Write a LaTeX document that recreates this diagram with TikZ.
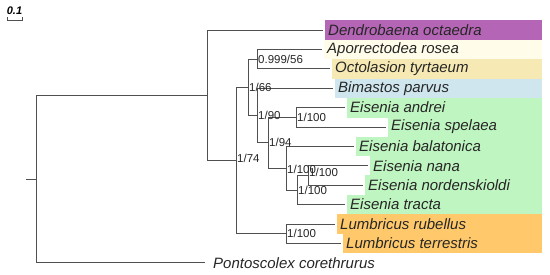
\documentclass[tikz,border=0pt]{standalone}
\usepackage{fontspec}
\setmainfont{Liberation Sans}
\definecolor{cpurp}{HTML}{B565B5}
\definecolor{cyell}{HTML}{FFFDE9}
\definecolor{ckhaki}{HTML}{F6E9B3}
\definecolor{cblue}{HTML}{CFE6EE}
\definecolor{cgreen}{HTML}{BFF5C0}
\definecolor{corange}{HTML}{FFC86A}
\definecolor{cline}{HTML}{505050}
\tikzset{
  branch/.style={draw=cline, line width=0.85pt},
  leaf/.style={anchor=west, inner xsep=5pt, inner ysep=0pt, font=\fontsize{15}{16}\selectfont\itshape, text=black!85},
  supp/.style={anchor=west, inner xsep=1pt, inner ysep=0pt, font=\fontsize{11.5}{12}\selectfont, text=black!85},
  band/.style={draw=none},
}
\begin{document}
\begin{tikzpicture}[x=1pt,y=-1pt]
\useasboundingbox (0,0) rectangle (550,274);
% colored bands
\fill[cpurp]  (325,20.3) rectangle (542,39.7);
\fill[cyell]  (324,39.7) rectangle (542,59.1);
\fill[ckhaki] (332,59.1) rectangle (542,78.5);
\fill[cblue]  (335,78.5) rectangle (542,97.9);
\fill[cgreen] (347,97.9) rectangle (542,117.5);
\fill[cgreen] (388,117.1) rectangle (542,136.9);
\fill[cgreen] (356,136.5) rectangle (542,156.3);
\fill[cgreen] (370,155.9) rectangle (542,175.7);
\fill[cgreen] (365,175.3) rectangle (542,195.1);
\fill[cgreen] (347,194.7) rectangle (542,214.3);
\fill[corange] (337,214.3) rectangle (542,233.9);
\fill[corange] (343,233.5) rectangle (542,253.1);
% leaves
\node[leaf] (dend) at (323,30.0) {Dendrobaena octaedra};
\node[leaf] (apor) at (322,49.4) {Aporrectodea rosea};
\node[leaf] (octo) at (330,68.8) {Octolasion tyrtaeum};
\node[leaf] (bima) at (333,88.2) {Bimastos parvus};
\node[leaf] (andr) at (345,107.6) {Eisenia andrei};
\node[leaf] (spel) at (386,127.0) {Eisenia spelaea};
\node[leaf] (bala) at (354,146.4) {Eisenia balatonica};
\node[leaf] (nana) at (368,165.8) {Eisenia nana};
\node[leaf] (nord) at (363,185.2) {Eisenia nordenskioldi};
\node[leaf] (trac) at (345,204.6) {Eisenia tracta};
\node[leaf] (rube) at (335,224.0) {Lumbricus rubellus};
\node[leaf] (terr) at (341,243.4) {Lumbricus terrestris};
\node[leaf, inner xsep=8pt] (pont) at (205,262.8) {Pontoscolex corethrurus};
% internal nodes
\coordinate (nI) at (308,175.5);
\coordinate (nH) at (297,190.0);
\coordinate (nG) at (286,168.2);
\coordinate (nF) at (296,117.3);
\coordinate (nE) at (268,142.8);
\coordinate (nD) at (257,115.5);
\coordinate (nB) at (257,59.1);
\coordinate (nC) at (248,87.3);
\coordinate (nL) at (286,233.7);
\coordinate (nK) at (236,160.5);
\coordinate (nA) at (207,95.2);
\coordinate (nR) at (36,179.0);
\coordinate (stub) at (26,179.0);
% branches
\draw[branch] (stub) -- (nR);
\draw[branch] (nR) |- (nA);
\draw[branch] (nR) |- (pont.west);
\draw[branch] (nA) |- (dend.west);
\draw[branch] (nA) |- (nK);
\draw[branch] (nK) |- (nC);
\draw[branch] (nK) |- (nL);
\draw[branch] (nC) |- (nB);
\draw[branch] (nC) |- (nD);
\draw[branch] (nB) |- (apor.west);
\draw[branch] (nB) |- (octo.west);
\draw[branch] (nD) |- (bima.west);
\draw[branch] (nD) |- (nE);
\draw[branch] (nE) |- (nF);
\draw[branch] (nE) |- (nG);
\draw[branch] (nF) |- (andr.west);
\draw[branch] (nF) |- (spel.west);
\draw[branch] (nG) |- (bala.west);
\draw[branch] (nG) |- (nH);
\draw[branch] (nH) |- (nI);
\draw[branch] (nH) |- (trac.west);
\draw[branch] (nI) |- (nana.west);
\draw[branch] (nI) |- (nord.west);
\draw[branch] (nL) |- (rube.west);
\draw[branch] (nL) |- (terr.west);
% support labels
\node[supp] (sB) at (nB) {0.999/56};
\node[supp] (sC) at (nC) {1/66};
\node[supp] (sD) at (nD) {1/90};
\node[supp] (sE) at (nE) {1/94};
\node[supp] (sF) at (nF) {1/100};
\node[supp] (sG) at ([yshift=-1.6pt]nG) {1/100};
\node[supp] (sH) at (nH) {1/100};
\node[supp] (sI) at ([yshift=3pt]nI) {1/100};
\node[supp] (sK) at ([yshift=2.5pt]nK) {1/74};
\node[supp] (sL) at (nL) {1/100};
% scale bar
\node[inner sep=0pt, font=\fontsize{11}{12}\selectfont\bfseries\itshape] (sbl) at (14.5,10.5) {0.1};
\coordinate (sb1) at (7,17);
\coordinate (sb2) at (7,20);
\coordinate (sb3) at (22,20);
\coordinate (sb4) at (22,17);
\draw[branch, line width=0.7pt] (sb1) -- (sb2) -- (sb3) -- (sb4);
\end{tikzpicture}
\end{document}
